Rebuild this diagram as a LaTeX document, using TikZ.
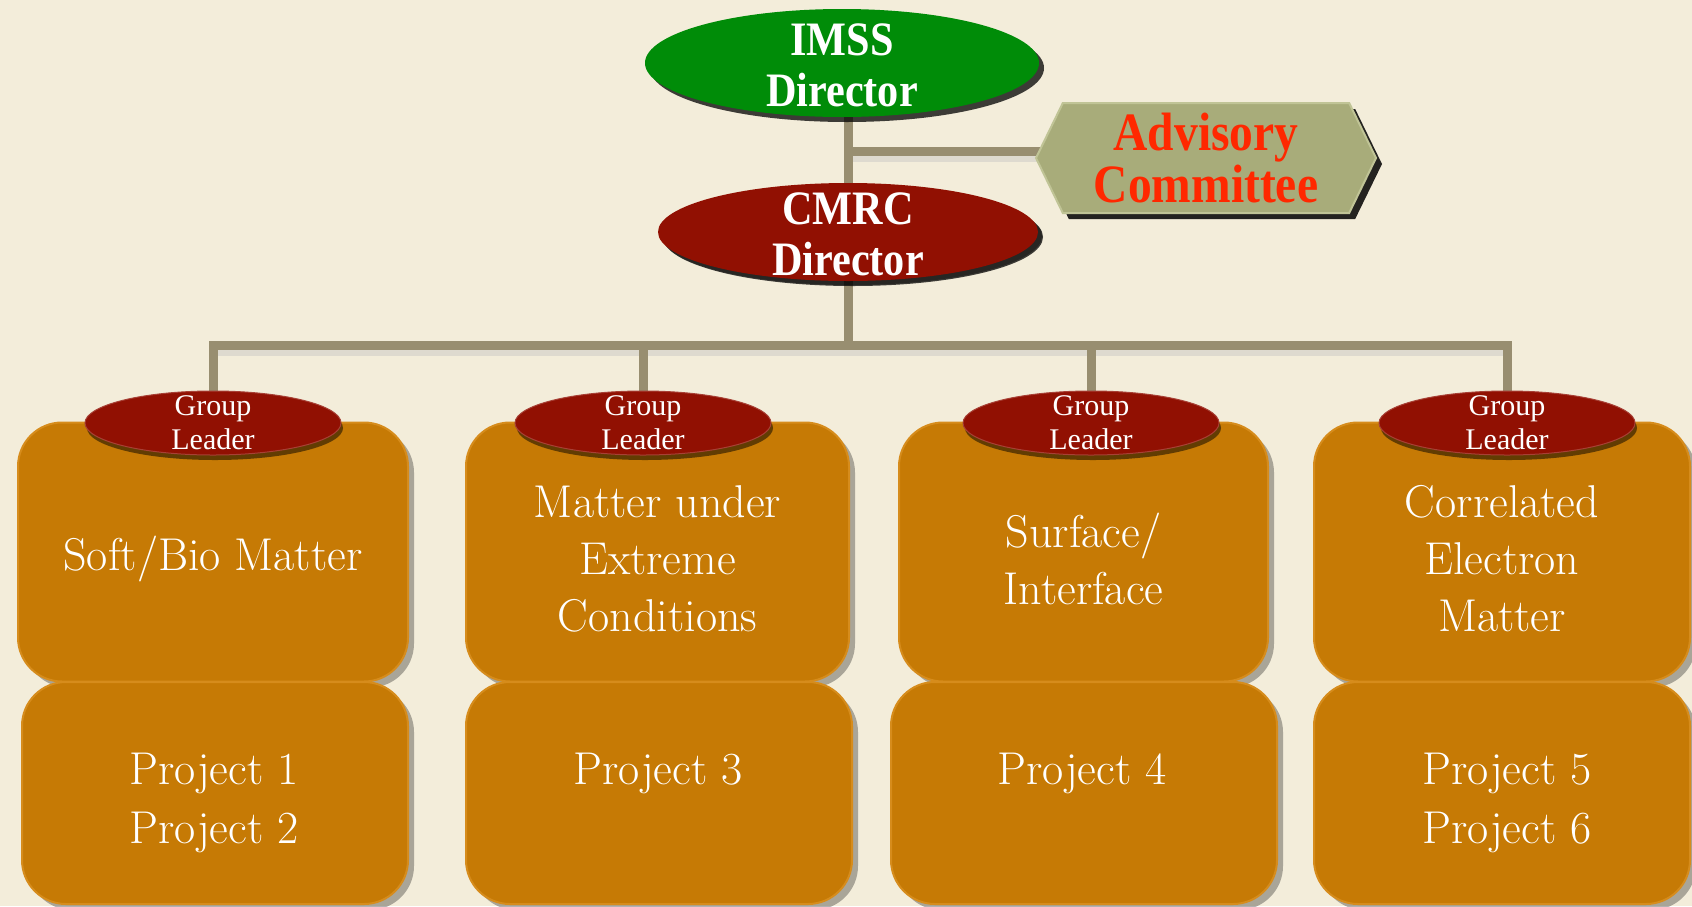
\documentclass[tikz,border=0pt]{standalone}
\usepackage{fontspec}
\newfontfamily\tnr{Liberation Serif}
\newfontfamily\tnrc[FakeStretch=0.88]{Liberation Serif}
\usetikzlibrary{shapes.geometric,shapes.symbols,shadows}
\definecolor{bgC}{RGB}{243,237,218}
\definecolor{connC}{RGB}{152,142,112}
\definecolor{greenC}{RGB}{0,140,8}
\definecolor{redC}{RGB}{145,16,2}
\definecolor{advC}{RGB}{168,172,122}
\definecolor{advB}{RGB}{192,196,150}
\definecolor{advT}{RGB}{255,40,0}
\definecolor{boxC}{RGB}{198,122,5}
\definecolor{boxB}{RGB}{214,140,28}
\pgfdeclarelayer{bg}
\pgfdeclarelayer{links}
\pgfsetlayers{bg,links,main}
\begin{document}
\begin{tikzpicture}[x=0.5pt,y=-0.5pt,
  conn/.style={draw=connC,line width=4.5pt,line join=miter},
  headtxt/.style={text=white,align=center,inner sep=0pt,
    font=\tnrc\bfseries\fontsize{24}{25.5}\selectfont},
  headell/.style={ellipse,inner sep=0pt,
    drop shadow={shadow xshift=2.5pt,shadow yshift=-2.5pt,opacity=0.75,fill=black}},
  leadtxt/.style={text=white,align=center,inner sep=0pt,
    font=\tnr\fontsize{15}{17}\selectfont},
  leader/.style={ellipse,fill=redC,draw=redC!80!white,line width=0.5pt,inner sep=0pt,
    minimum width=128pt,minimum height=32pt,
    drop shadow={shadow xshift=1pt,shadow yshift=-2.5pt,opacity=0.5,fill=black}},
  boxstyle/.style={rectangle,rounded corners=22pt,fill=boxC,draw=boxB,line width=1pt,
    inner sep=0pt,
    drop shadow={shadow xshift=3pt,shadow yshift=-3pt,opacity=0.3,fill=black}},
  boxtxt/.style={text=white,align=center,inner sep=0pt,yshift=-3.5pt,
    font=\fontsize{23}{28.5}\selectfont},
  ptext/.style={text=white,align=center,inner sep=0pt,font=\fontsize{23}{29.5}\selectfont}
]
\path[use as bounding box] (0,0) rectangle (1692,906);
\begin{pgfonlayer}{bg}
\fill[bgC] (0,0) rectangle (1692,906);
\end{pgfonlayer}

% top of hierarchy
\node[headell,fill=greenC,minimum width=197pt,minimum height=54pt,
  label={[headtxt,yshift=-1pt]center:IMSS\\Director}] (imss) at (842,63) {};
\node[headell,fill=redC,minimum width=190pt,minimum height=49pt,
  drop shadow={shadow xshift=2pt,shadow yshift=-2pt,opacity=0.35,fill=black},
  label={[headtxt,yshift=-1pt]center:CMRC\\Director}] (cmrc) at (848,232) {};
\node[signal,signal to=east and west,signal pointer angle=128,fill=advC,draw=advB,line width=1pt,
  minimum width=170pt,minimum height=55pt,inner sep=0pt,text=advT,align=center,
  font=\tnrc\bfseries\fontsize{27}{22.5}\selectfont,
  drop shadow={shadow xshift=3pt,shadow yshift=-3pt,opacity=0.85,fill=black}] (adv) at (1206,158) {Advisory\\Committee};
\coordinate (j1) at (848,151);
\coordinate (bus) at (848,345);

% group columns
\node[boxstyle,minimum width=195pt,minimum height=129.5pt,
  label={[boxtxt]center:Soft/Bio Matter}] (t1) at (213,552) {};
\node[boxstyle,minimum width=191.5pt,minimum height=129.5pt,
  label={[boxtxt]center:Matter under\\Extreme\\Conditions}] (t2) at (657.5,552) {};
\node[boxstyle,minimum width=184.5pt,minimum height=129.5pt,
  label={[boxtxt]center:Surface/\\Interface}] (t3) at (1083.5,552) {};
\node[boxstyle,minimum width=188pt,minimum height=129.5pt,
  label={[boxtxt]center:Correlated\\Electron\\Matter}] (t4) at (1502,552) {};

\node[boxstyle,minimum width=193pt,minimum height=111pt] (b1) at (215,793) {};
\node[boxstyle,minimum width=193pt,minimum height=111pt] (b2) at (659,793) {};
\node[boxstyle,minimum width=193pt,minimum height=111pt] (b3) at (1084,793) {};
\node[boxstyle,minimum width=188pt,minimum height=111pt] (b4) at (1502,793) {};

\node[ptext] (p1) at (214,803) {Project 1\\Project 2};
\node[ptext] (p3) at (658,773) {Project 3};
\node[ptext] (p4) at (1082,773) {Project 4};
\node[ptext] (p5) at (1507,803) {Project 5\\Project 6};

\node[leader,label={[leadtxt]center:Group\\Leader}] (gl1) at (213,423) {};
\node[leader,label={[leadtxt]center:Group\\Leader}] (gl2) at (643,423) {};
\node[leader,label={[leadtxt]center:Group\\Leader}] (gl3) at (1091,423) {};
\node[leader,label={[leadtxt]center:Group\\Leader}] (gl4) at (1507,423) {};

% connectors
\begin{pgfonlayer}{links}
\draw[conn,draw=black!25,opacity=0.4] ([yshift=-3pt]j1) -- ([yshift=-3pt]j1 -| adv.center);
\draw[conn,draw=black!25,opacity=0.4] ([yshift=-3pt]gl1.north |- bus) -- ([yshift=-3pt]gl4.north |- bus);
\draw[conn] (imss.south -| cmrc.north) -- (cmrc.north);
\draw[conn] (j1) -- (j1 -| adv.center);
\draw[conn] (cmrc.south) -- (bus);
\draw[conn] (gl1.north) |- (bus) -| (gl4.north);
\draw[conn] (gl2.north |- bus) -- (gl2.north);
\draw[conn] (gl3.north |- bus) -- (gl3.north);
\end{pgfonlayer}
\end{tikzpicture}
\end{document}
